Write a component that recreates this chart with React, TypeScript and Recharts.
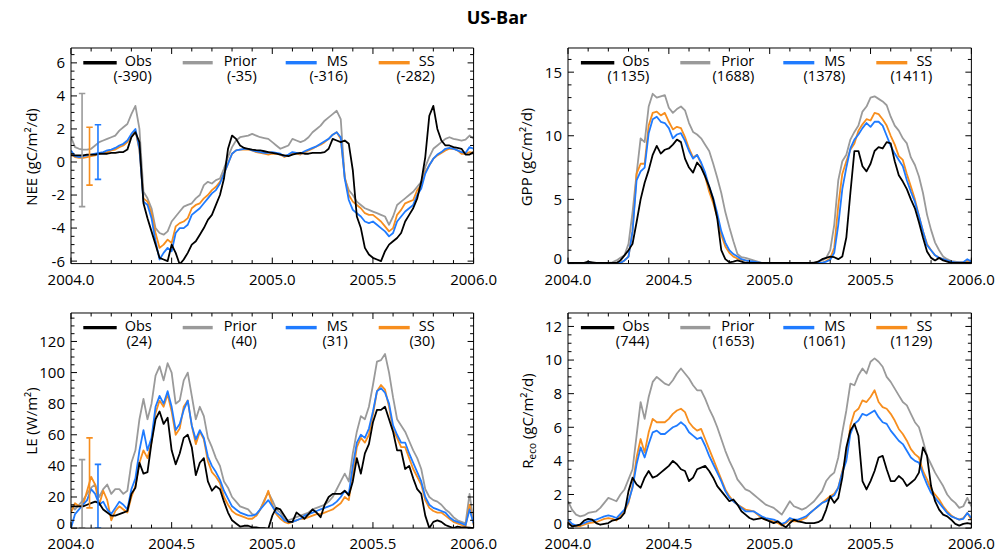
import React from 'react';
import { LineChart, Line, XAxis, YAxis, ReferenceLine } from 'recharts';

const FONT = '"Open Sans", "Noto Sans", "DejaVu Sans", sans-serif';

// Sampling grid: fraction-of-year time axis, every 0.02 yr from 2004.0 to 2006.0
const dates: number[] = Array.from({ length: 101 }, (_, i) => Math.round((2004 + i * 0.02) * 100) / 100);

const seriesNames = ['Obs', 'Prior', 'MS', 'SS'];
const seriesKeys = ['obs', 'prior', 'ms', 'ss'];
const seriesColors: Record<string, string> = { obs: '#000000', prior: '#9a9a9a', ms: '#1f7bff', ss: '#f78e1e' };

// NEE (gC/m2/d)
const neeObs = [0.4,0.4,0.4,0.4,0.45,0.45,0.45,0.5,0.5,0.5,
  0.55,0.55,0.6,0.6,0.75,1.5,1.8,1.2,-2.5,-3.4,
  -4.2,-5.0,-5.8,-5.9,-6.0,-5.0,-5.5,-6.2,-5.9,-5.5,
  -5.0,-4.8,-4.4,-4.0,-3.5,-3.2,-2.6,-2.0,-1.0,0.8,
  1.6,1.4,1.0,0.85,0.8,0.75,0.72,0.7,0.65,0.6,
  0.55,0.5,0.45,0.4,0.35,0.45,0.5,0.55,0.5,0.5,
  0.55,0.55,0.55,0.6,0.8,1.4,1.3,1.2,1.3,1.1,
  -0.5,-3.3,-4.0,-5.2,-5.6,-5.8,-5.9,-6.0,-5.4,-5.0,
  -4.8,-4.6,-4.3,-3.6,-3.2,-2.8,-2.2,-1.2,0.3,2.8,
  3.4,2.0,1.3,1.0,1.0,0.9,0.85,0.8,0.45,0.45,
  0.6];
const neePrior = [1.5,0.9,0.8,0.75,0.75,0.8,1.0,1.2,1.3,1.4,
  1.5,1.6,1.9,2.1,2.3,2.9,3.4,2.0,-1.8,-2.2,
  -2.8,-4.0,-4.3,-4.4,-4.2,-3.6,-3.3,-3.0,-2.7,-2.6,
  -2.5,-2.2,-2.0,-1.4,-1.2,-1.3,-1.1,-1.0,-0.4,0.3,
  0.9,1.3,1.5,1.55,1.6,1.7,1.6,1.5,1.45,1.4,
  1.2,1.0,0.8,0.9,1.0,1.4,1.3,1.2,1.3,1.5,
  1.8,2.0,2.2,2.5,2.7,2.9,3.1,2.6,-1.0,-1.7,
  -2.0,-2.4,-2.6,-2.8,-2.9,-3.0,-3.1,-3.2,-3.3,-3.8,
  -3.3,-2.6,-2.4,-2.2,-2.0,-1.8,-1.5,-1.2,-0.3,0.3,
  0.8,1.0,1.2,1.4,1.5,1.4,1.35,1.3,1.35,1.6,
  1.4];
const neeMS = [0.7,0.35,0.3,0.35,0.4,0.45,0.5,0.55,0.6,0.7,
  0.75,0.85,1.0,1.1,1.3,1.7,2.0,0.8,-2.4,-2.6,
  -3.4,-4.8,-5.9,-5.5,-5.2,-5.4,-4.3,-4.0,-4.0,-3.8,
  -3.2,-3.0,-2.8,-2.5,-2.2,-1.9,-1.7,-1.3,-0.7,-0.1,
  0.5,0.7,0.75,0.8,0.8,0.7,0.65,0.6,0.55,0.55,
  0.6,0.55,0.5,0.35,0.45,0.6,0.55,0.5,0.65,0.75,
  0.85,0.95,1.1,1.25,1.4,1.65,1.8,1.5,-1.0,-2.3,
  -2.9,-3.1,-3.3,-3.6,-3.7,-3.6,-3.8,-4.0,-4.2,-4.5,
  -4.3,-3.6,-3.3,-3.0,-2.8,-2.6,-2.0,-1.6,-0.7,-0.2,
  0.2,0.45,0.6,0.8,0.85,0.8,0.7,0.6,0.55,0.9,
  0.8];
const neeSS = [0.5,0.3,0.25,0.25,0.3,0.35,0.4,0.5,0.55,0.6,
  0.7,0.75,0.9,1.0,1.2,1.6,1.9,0.7,-2.2,-2.4,
  -3.1,-4.3,-5.2,-5.0,-4.7,-4.9,-3.9,-3.7,-3.6,-3.4,
  -2.8,-2.6,-2.5,-2.2,-2.0,-1.7,-1.5,-1.2,-0.7,-0.1,
  0.5,0.7,0.75,0.75,0.75,0.7,0.6,0.55,0.5,0.45,
  0.5,0.5,0.45,0.3,0.4,0.55,0.5,0.45,0.6,0.7,
  0.8,0.95,1.05,1.2,1.4,1.65,1.8,1.4,-0.9,-2.0,
  -2.4,-2.6,-2.8,-3.1,-3.2,-3.2,-3.4,-3.6,-3.9,-4.2,
  -4.0,-3.2,-2.9,-2.5,-2.4,-2.3,-1.7,-1.4,-0.6,-0.2,
  0.2,0.4,0.55,0.7,0.8,0.8,0.7,0.5,0.5,0.6,
  0.55];

// GPP (gC/m2/d)
const gppObs = [0,0,0,0,0,0.1,0.05,0,0,0,
  0,0,0,0.2,0.6,1.0,1.5,3.2,5.0,6.3,
  7.3,8.5,9.2,8.6,8.9,9.0,9.3,9.7,9.5,8.2,
  7.5,7.1,7.9,7.5,6.8,6.0,5.0,3.5,1.0,0.3,
  0.05,0.1,0.2,0.1,0,0,0,0,0,0,
  0,0,0,0,0,0,0,0,0,0,
  0,0,0.1,0.3,0.4,0.5,0.45,0.3,0.5,2.0,
  5.5,8.8,8.8,7.6,7.2,7.8,8.8,9.1,9.0,9.5,
  9.4,8.0,6.9,6.4,5.8,5.0,4.3,3.2,2.0,0.9,
  0.4,0.2,0.4,0.2,0.1,0,0,0,0,0,
  0];
const gppPrior = [0,0,0,0,0,0,0,0,0,0,
  0,0.05,0.2,0.4,0.6,1.5,4.0,7.0,9.8,9.5,
  12.3,13.3,13.0,13.1,13.2,12.2,11.8,12.1,12.3,12.0,
  11.0,10.3,10.1,9.8,9.3,8.8,7.8,6.7,5.5,4.0,
  2.8,1.7,0.7,0.45,0.4,0.3,0.2,0.1,0,0,
  0,0,0,0,0,0,0,0,0,0,
  0,0.05,0.1,0.2,0.4,1.0,3.0,6.5,8.0,8.5,
  9.7,10.3,10.8,11.9,12.3,13.0,13.1,12.9,12.7,12.4,
  11.5,10.8,10.4,9.8,9.4,8.3,7.7,6.8,5.5,3.8,
  2.6,1.6,1.0,0.5,0.3,0.15,0.1,0.05,0.05,0.15,
  0.2];
const gppMS = [0,0,0,0,0,0,0,0,0,0,
  0,0,0,0,0.2,0.5,2.5,6.5,7.2,7.5,
  10.2,11.3,11.5,11.1,11.0,10.6,9.8,10.1,10.2,9.6,
  8.8,8.2,8.5,7.9,7.1,6.0,5.1,3.9,2.5,1.6,
  1.0,0.7,0.5,0.3,0.2,0.15,0.1,0.05,0,0,
  0,0,0,0,0,0,0,0,0,0,
  0,0,0,0,0.1,0.25,0.8,3.0,5.8,7.5,
  9.0,9.7,10.1,10.6,11.0,10.7,11.1,11.1,10.8,10.0,
  9.2,8.6,8.1,7.6,6.5,5.6,4.8,3.7,2.5,1.4,
  1.0,0.6,0.4,0.3,0.2,0.1,0.05,0.05,0.05,0.3,
  0.1];
const gppSS = [0,0,0,0,0,0,0,0,0,0,
  0,0,0,0,0.2,0.5,2.5,7.0,7.8,7.8,
  10.8,11.8,11.9,11.6,11.8,11.1,10.5,10.7,10.6,9.9,
  9.0,8.3,8.5,7.8,6.8,5.6,4.7,3.6,2.2,1.3,
  0.8,0.5,0.35,0.25,0.2,0.1,0.05,0,0,0,
  0,0,0,0,0,0,0,0,0,0,
  0,0,0,0,0.15,0.35,1.2,4.5,7.0,8.0,
  8.9,9.4,10.4,10.9,11.3,11.2,11.8,11.7,11.3,10.8,
  10.0,9.3,8.4,8.1,7.0,6.0,5.0,3.7,2.5,1.5,
  1.0,0.6,0.4,0.3,0.2,0.1,0.05,0.05,0.05,0.2,
  0.1];

// LE (W/m2)
const leObs = [14,14,14,14,15,16,17,16,12,10,
  8,8,9,10,11,22,26,42,35,36,
  55,70,75,67,71,50,41,48,58,60,
  52,34,42,45,30,24,27,25,17,10,
  5,3,1,1.5,1.5,0.5,0.5,0,0,-0.5,
  8,13,12,8,4,4,10,8,6,9,
  12,10,7,15,20,22,22,22,24,21,
  30,45,35,48,54,68,76,76,78,70,
  62,50,50,38,40,32,25,22,8,0,
  4,5,4,2,1,0,1,0.5,0.5,0.3,
  0];
const lePrior = [14,12,15,18,22,26,28,20,25,28,
  22,25,25,22,24,42,50,70,83,70,
  80,98,104,95,106,100,80,82,95,100,
  85,70,78,72,58,52,45,40,30,26,
  20,17,14,13,12,9,8,12,18,23,
  18,12,10,6,5,6,7,8,9,10,
  12,13,14,15,17,20,25,30,35,30,
  48,62,72,70,78,92,107,108,112,100,
  84,70,66,62,56,50,45,38,25,20,
  18,17,15,12,10,7,5,4,3,22,
  4];
const leMS = [0,9,12,15,18,25,22,15,17,12,
  9,13,17,15,12,25,32,50,63,50,
  58,78,85,80,88,78,63,67,76,82,
  66,57,63,58,46,40,36,31,24,19,
  14,12,10,9,8,8,9,12,15,18,
  14,10,8,5,4,4,5,6,8,9,
  10,11,12,13,14,15,17,20,24,22,
  40,55,60,58,64,75,88,90,87,80,
  66,60,55,55,48,42,36,30,20,15,
  13,12,11,10,7,5,4,3,2,12,
  3];
const leSS = [10,16,14,15,24,33,28,15,24,18,
  5,11,14,12,10,20,27,42,50,45,
  55,74,82,78,86,75,60,64,78,82,
  66,54,62,57,43,36,33,29,20,15,
  11,9,8,7,6,6,8,12,17,24,
  15,9,6,4,3,4,5,6,6,7,
  8,9,9,10,11,12,14,16,20,18,
  35,52,58,55,60,73,88,92,89,78,
  63,58,52,52,45,38,33,28,18,13,
  11,10,10,8,6,4,3,2,1,15,
  2];

// Reco (gC/m2/d)
const recoObs = [0.3,0.1,0.15,0.2,0.45,0.55,0.5,0.3,0.2,0.25,
  0.3,0.45,0.5,0.6,0.9,2.2,3.0,2.6,2.4,3.0,
  3.4,3.0,3.1,3.3,3.5,3.7,4.0,3.8,3.5,3.4,
  2.8,3.0,3.5,3.6,3.7,3.4,3.0,2.5,2.2,1.9,
  1.6,1.7,1.4,1.0,0.8,0.6,0.5,0.55,0.6,0.5,
  0.4,0.3,0.4,0.2,0.05,0.3,0.5,0.4,0.35,0.3,
  0.3,0.3,0.35,0.5,1.1,1.9,1.5,1.8,3.0,4.8,
  5.8,6.2,5.5,2.8,2.3,2.8,3.4,4.2,4.3,3.5,
  2.8,2.8,3.1,2.9,2.5,2.7,2.9,3.3,4.8,4.3,
  2.5,1.6,1.1,0.8,0.7,0.5,0.25,0.15,0.25,0.3,
  0.25];
const recoPrior = [1.6,1.1,0.8,0.7,0.75,0.9,0.95,1.0,1.2,1.5,
  1.8,1.7,1.6,2.0,2.3,2.9,3.5,5.5,7.5,6.5,
  7.8,8.7,9.0,8.8,8.6,8.5,8.8,9.2,9.5,9.2,
  8.9,8.5,8.2,8.2,7.7,7.1,6.6,6.0,5.3,4.6,
  4.0,3.5,2.9,2.6,2.3,2.2,2.0,1.8,1.6,1.4,
  1.3,1.2,1.0,0.8,1.2,1.6,1.3,1.2,1.1,1.2,
  1.4,1.6,1.9,2.2,2.8,3.1,3.3,4.2,5.7,7.0,
  8.6,8.5,9.1,9.5,9.2,9.9,10.1,9.9,9.6,9.0,
  8.7,8.3,7.9,7.5,7.3,6.8,6.3,6.0,5.2,4.3,
  3.8,3.3,2.9,2.5,2.0,1.7,1.5,1.2,1.3,1.8,
  1.3];
const recoMS = [0.5,0.25,0.15,0.2,0.3,0.4,0.45,0.5,0.6,0.7,
  0.75,0.7,0.6,0.85,1.1,1.6,2.4,3.8,4.8,4.2,
  5.0,5.7,5.8,5.6,5.6,5.8,6.0,6.1,6.3,6.1,
  5.7,5.5,5.3,5.4,4.9,4.3,3.8,3.3,2.8,2.2,
  1.8,1.6,1.4,1.2,1.0,1.0,1.0,0.85,0.7,0.6,
  0.55,0.5,0.4,0.25,0.35,0.6,0.5,0.5,0.6,0.7,
  0.9,1.1,1.3,1.5,1.6,1.8,1.95,2.4,3.3,4.0,
  5.6,6.2,6.4,6.8,6.7,6.85,7.0,6.6,6.3,6.2,
  5.8,5.5,5.2,5.0,4.6,4.2,4.0,3.9,3.2,2.6,
  2.1,1.8,1.5,1.2,0.9,0.7,0.6,0.5,0.55,0.9,
  0.6];
const recoSS = [0.4,0.15,0.1,0.12,0.2,0.3,0.33,0.35,0.45,0.55,
  0.6,0.55,0.45,0.75,1.0,1.5,2.5,4.2,5.3,4.5,
  5.7,6.5,6.3,6.3,6.3,6.5,6.8,7.0,7.1,6.9,
  6.3,6.0,5.8,5.9,5.3,4.7,4.1,3.5,2.9,2.3,
  1.9,1.6,1.4,1.25,1.1,1.05,1.0,0.8,0.6,0.5,
  0.45,0.4,0.3,0.15,0.3,0.5,0.4,0.4,0.5,0.6,
  0.9,1.1,1.3,1.5,1.7,1.9,2.05,2.4,3.4,4.2,
  6.1,6.9,7.1,7.6,7.5,7.8,8.2,7.5,7.2,7.1,
  6.8,6.4,5.9,5.6,5.2,4.7,4.4,4.2,3.4,2.9,
  2.3,2.0,1.7,1.3,1.0,0.75,0.6,0.5,0.6,0.9,
  0.5];

// Annual-sum totals shown under each legend name
const neeTotals = [-390, -35, -316, -282];
const gppTotals = [1135, 1688, 1378, 1411];
const leTotals = [24, 40, 31, 30];
const recoTotals = [744, 1653, 1061, 1129];

// Prior-uncertainty bars near the start of the record
const neeErrors = [
  { key: 'prior', x: 2004.055, lo: -2.7, hi: 4.15 },
  { key: 'ss', x: 2004.092, lo: -1.4, hi: 2.1 },
  { key: 'ms', x: 2004.134, lo: -1.05, hi: 2.25 },
];
const leErrors = [
  { key: 'prior', x: 2004.055, lo: 0, hi: 44 },
  { key: 'ss', x: 2004.092, lo: 13, hi: 58 },
  { key: 'ms', x: 2004.134, lo: 0, hi: 41 },
];

const range = (a: number, b: number, step: number) => {
  const out: number[] = [];
  const n = Math.round((b - a) / step);
  for (let i = 0; i <= n; i++) out.push(Math.round((a + i * step) * 1000) / 1000);
  return out;
};

const xTicks = range(2004, 2006, 0.1);

const buildRows = (obs: number[], prior: number[], ms: number[], ss: number[]) =>
  dates.map((t, i) => ({ t, obs: obs[i], prior: prior[i], ms: ms[i], ss: ss[i] }));

const isMajor = (v: number, step: number) => {
  const r = v / step;
  return Math.abs(r - Math.round(r)) < 1e-6;
};

type Kind = 'left' | 'right' | 'top' | 'bottom';

const makeTick = (kind: Kind, majorStep: number, decimals: number, liftValue?: number) => (props: any) => {
  const { x, y, payload } = props;
  const v: number = payload.value;
  const major = isMajor(v, majorStep);
  const len = major ? 6 : 3.5;
  let x2 = x, y2 = y;
  if (kind === 'left') x2 = x + len;
  if (kind === 'right') x2 = x - len;
  if (kind === 'top') y2 = y + len;
  if (kind === 'bottom') y2 = y - len;
  let label: React.ReactNode = null;
  if (major && kind === 'left') {
    const lift = liftValue !== undefined && Math.abs(v - liftValue) < 1e-9 ? -4 : 0;
    label = (
      <text x={x - 6} y={y + lift} dy="0.36em" textAnchor="end" fontSize={15} fontFamily={FONT} fill="#000">
        {v.toFixed(decimals)}
      </text>
    );
  }
  if (major && kind === 'bottom') {
    label = (
      <text x={x} y={y + 21} textAnchor="middle" fontSize={15} fontFamily={FONT} fill="#000">
        {v.toFixed(1)}
      </text>
    );
  }
  return (
    <g>
      <line x1={x} y1={y} x2={x2} y2={y2} stroke="#000" strokeWidth={1} />
      {label}
    </g>
  );
};

type Box = { left: number; top: number; width: number; height: number };

type PanelProps = {
  box: Box;
  rows: any[];
  domain: [number, number];
  yTicks: number[];
  yMajor: number;
  liftValue?: number;
  errors?: { key: string; x: number; lo: number; hi: number }[];
};

const CAP = 0.016;

function Panel({ box, rows, domain, yTicks, yMajor, liftValue, errors }: PanelProps) {
  const padL = 60, padR = 40, padT = 10, padB = 30;
  const axisStroke = { stroke: '#000', strokeWidth: 1 };
  const drawOrder = ['prior', 'ss', 'ms', 'obs'];
  return (
    <div style={{ position: 'absolute', left: box.left - padL, top: box.top - padT }}>
      <LineChart
        width={box.width + padL + padR}
        height={box.height + padT + padB}
        data={rows}
        margin={{ top: padT - 1, right: padR - 1, bottom: 1, left: 10 }}
      >
        <XAxis xAxisId="b" dataKey="t" type="number" domain={[2004, 2006]} ticks={xTicks} interval={0}
          allowDataOverflow tickSize={0} tickMargin={0} tickLine={false} axisLine={axisStroke}
          height={padB - 1} tick={makeTick('bottom', 0.5, 1)} />
        <XAxis xAxisId="top" orientation="top" dataKey="t" type="number" domain={[2004, 2006]} ticks={xTicks}
          interval={0} allowDataOverflow tickSize={0} tickMargin={0} tickLine={false} axisLine={axisStroke}
          height={1} tick={makeTick('top', 0.5, 1)} />
        <YAxis yAxisId="l" type="number" domain={domain} ticks={yTicks} interval={0} allowDataOverflow
          tickSize={0} tickMargin={0} tickLine={false} axisLine={axisStroke} width={padL - 10}
          tick={makeTick('left', yMajor, 0, liftValue)} />
        <YAxis yAxisId="r" orientation="right" type="number" domain={domain} ticks={yTicks} interval={0}
          allowDataOverflow tickSize={0} tickMargin={0} tickLine={false} axisLine={axisStroke} width={1}
          tick={makeTick('right', yMajor, 0)} />
        {drawOrder.map((k) => (
          <Line key={k} xAxisId="b" yAxisId="l" dataKey={k} type="linear" stroke={seriesColors[k]}
            strokeWidth={1.8} dot={false} activeDot={false} isAnimationActive={false}
            strokeLinejoin="round" />
        ))}
        {(errors || []).map((e) => (
          <ReferenceLine key={e.key + 'v'} xAxisId="b" yAxisId="l" stroke={seriesColors[e.key]} strokeWidth={1.6}
            segment={[{ x: e.x, y: e.lo }, { x: e.x, y: e.hi }]} ifOverflow="hidden" />
        ))}
        {(errors || []).map((e) => (
          <ReferenceLine key={e.key + 'h'} xAxisId="b" yAxisId="l" stroke={seriesColors[e.key]} strokeWidth={1.6}
            segment={[{ x: e.x - CAP, y: e.hi }, { x: e.x + CAP, y: e.hi }]} ifOverflow="hidden" />
        ))}
        {(errors || []).map((e) => (
          <ReferenceLine key={e.key + 'l'} xAxisId="b" yAxisId="l" stroke={seriesColors[e.key]} strokeWidth={1.6}
            segment={[{ x: e.x - CAP, y: e.lo }, { x: e.x + CAP, y: e.lo }]} ifOverflow="hidden" />
        ))}
      </LineChart>
    </div>
  );
}

// Legend block: line sample + name, annual total in parentheses below
const legendLineStart = [12.6, 112, 215, 308];
const legendLineEnd = [46, 142, 246, 339];
const legendTextEnd = [81, 186, 277, 364];

function Legend({ box, totals }: { box: Box; totals: number[] }) {
  return (
    <g fontFamily={FONT} fontSize={14.5} fill="#000">
      {seriesKeys.map((k, i) => (
        <g key={k}>
          <line x1={box.left + legendLineStart[i]} x2={box.left + legendLineEnd[i]} y1={box.top + 15} y2={box.top + 15}
            stroke={seriesColors[k]} strokeWidth={3.4} />
          <text x={box.left + legendTextEnd[i]} y={box.top + 13.5} dy="0.36em" textAnchor="end">{seriesNames[i]}</text>
          <text x={box.left + legendTextEnd[i]} y={box.top + 28.5} dy="0.36em" textAnchor="end">({totals[i]})</text>
        </g>
      ))}
    </g>
  );
}

const boxNEE: Box = { left: 70.7, top: 47.7, width: 402.6, height: 215.6 };
const boxGPP: Box = { left: 568.3, top: 47.7, width: 403.4, height: 215.6 };
const boxLE: Box = { left: 70.7, top: 312.6, width: 402.6, height: 215.1 };
const boxReco: Box = { left: 568.3, top: 312.6, width: 403.4, height: 215.1 };

function AxisTitle({ x, y, children }: { x: number; y: number; children: React.ReactNode }) {
  return (
    <text x={x} y={y} transform={`rotate(-90 ${x} ${y})`} textAnchor="middle" dy="0.36em"
      fontFamily={FONT} fontSize={15} fill="#000">
      {children}
    </text>
  );
}

export default function App() {
  const neeRows = buildRows(neeObs, neePrior, neeMS, neeSS);
  const gppRows = buildRows(gppObs, gppPrior, gppMS, gppSS);
  const leRows = buildRows(leObs, lePrior, leMS, leSS);
  const recoRows = buildRows(recoObs, recoPrior, recoMS, recoSS);
  return (
    <div style={{ position: 'absolute', left: 0, top: 0, width: 996, height: 553, overflow: 'hidden', background: '#fff' }}>
      <Panel box={boxNEE} rows={neeRows} domain={[-6.15, 6.9]} yTicks={range(-6, 6.5, 0.5)} yMajor={2} errors={neeErrors} />
      <Panel box={boxGPP} rows={gppRows} domain={[-0.05, 16.9]} yTicks={range(0, 16, 1)} yMajor={5} liftValue={0} />
      <Panel box={boxLE} rows={leRows} domain={[0, 138.3]} yTicks={range(0, 135, 5)} yMajor={20} liftValue={0} errors={leErrors} />
      <Panel box={boxReco} rows={recoRows} domain={[0, 12.8]} yTicks={range(0, 12.5, 0.5)} yMajor={2} liftValue={0} />
      <svg width={996} height={553} style={{ position: 'absolute', left: 0, top: 0, pointerEvents: 'none' }}>
        <text x={497} y={24} textAnchor="middle" fontFamily={FONT} fontSize={18} fontWeight="bold" fill="#000">US-Bar</text>
        <AxisTitle x={32} y={157}>NEE (gC/m²/d)</AxisTitle>
        <AxisTitle x={527} y={157}>GPP (gC/m²/d)</AxisTitle>
        <AxisTitle x={32} y={421}>LE (W/m²)</AxisTitle>
        <AxisTitle x={528} y={421}>
          <tspan>R</tspan>
          <tspan fontSize={10} dy={3}>eco</tspan>
          <tspan dy={-3}> (gC/m²/d)</tspan>
        </AxisTitle>
        <Legend box={boxNEE} totals={neeTotals} />
        <Legend box={boxGPP} totals={gppTotals} />
        <Legend box={boxLE} totals={leTotals} />
        <Legend box={boxReco} totals={recoTotals} />
      </svg>
    </div>
  );
}
